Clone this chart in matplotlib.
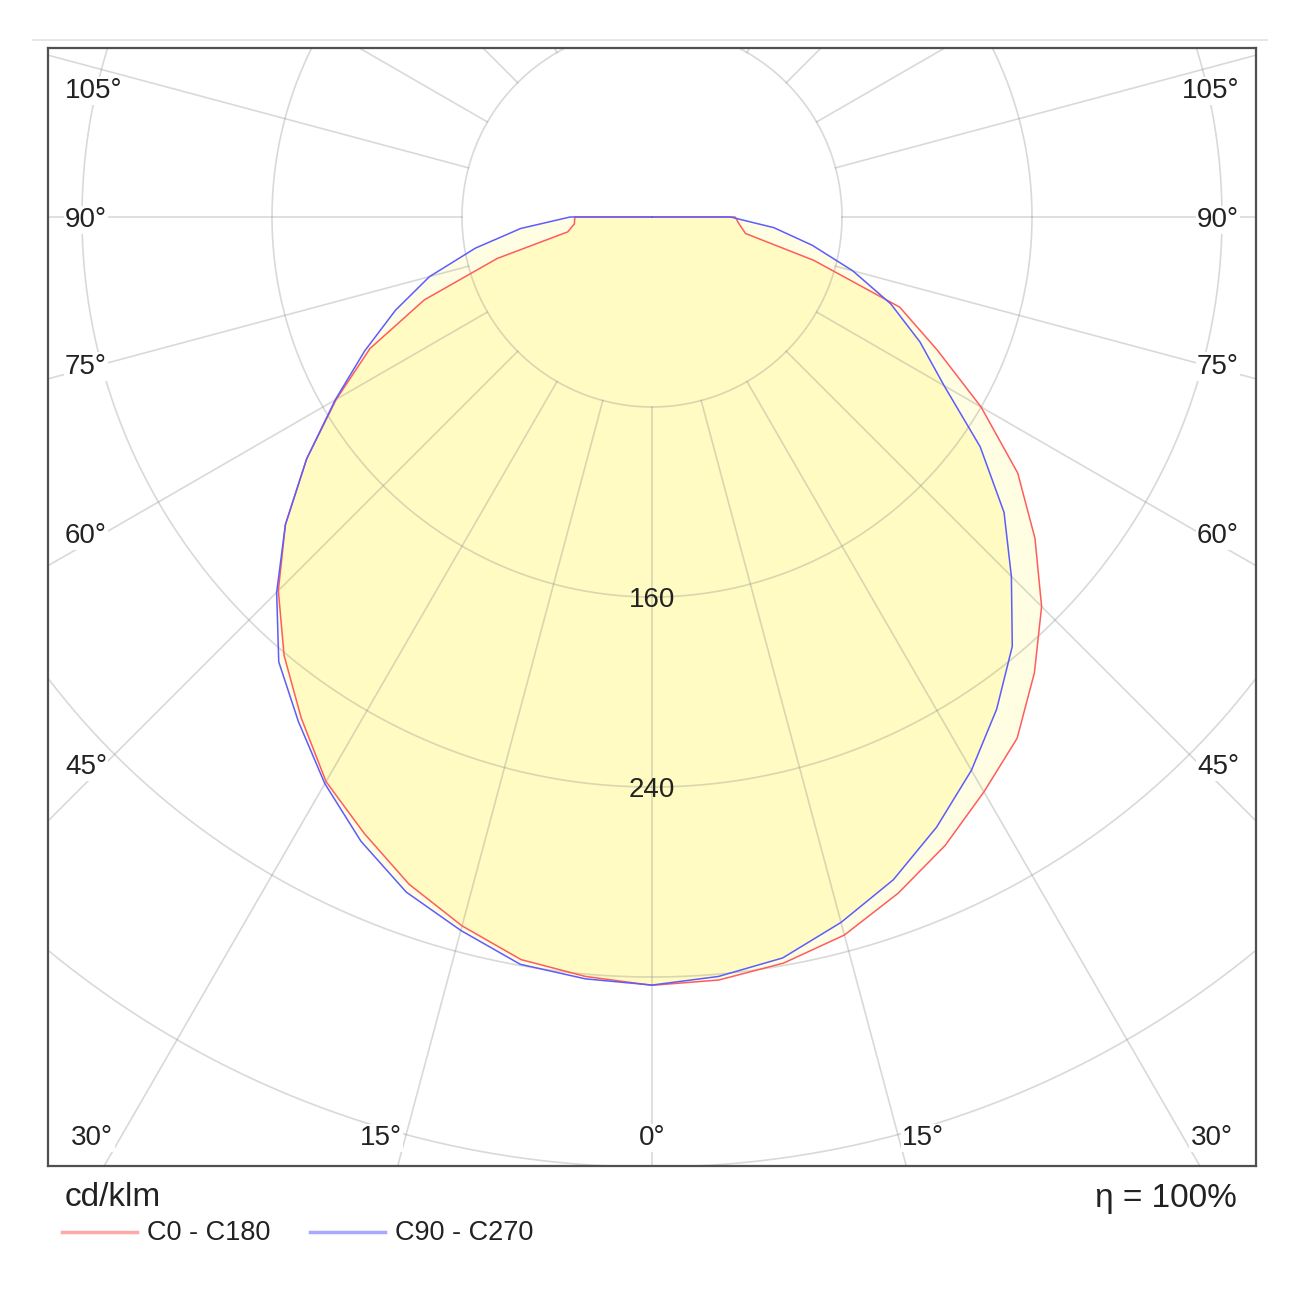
import numpy as np
import matplotlib.pyplot as plt
from matplotlib.lines import Line2D

plt.rcParams['font.family'] = ['Liberation Sans', 'DejaVu Sans']

# luminous intensity (cd/klm) every 5 deg from nadir
gamma = list(range(0, 91, 5))
c0 = [323.5, 322.5, 319, 313, 303, 292, 279.5, 268, 250.5, 232, 210.5, 188,
      160, 132.5, 111, 70.5, 40, 37, 35]
c180 = [323.5, 321, 317.5, 309, 299, 286.5, 274.5, 257.5, 241, 222.5, 201.5, 177.5,
        153.5, 131, 102, 67.5, 36, 32.8, 32.5]
c90 = [323.4, 321, 316.8, 307.5, 297, 283.5, 269, 253, 236, 214, 193.5, 168.7,
       142, 124.5, 107, 87.5, 68.5, 51.5, 33]
c270 = [323.4, 322, 319.5, 311, 302.5, 290, 275.5, 259.5, 244.5, 223.5, 201.5, 177.5,
        154, 133.5, 115, 97, 75.5, 55.5, 34.5]

ring_values = [80, 160, 240, 320, 400, 480, 560, 640]
ring_labels = [160, 240]
angle_labels = [0, 15, 30, 45, 60, 75, 90, 105]
efficiency = "η = 100%"
unit = "cd/klm"
legend_names = ["C0 - C180", "C90 - C270"]


def outline(right, left):
    g = np.radians(gamma)
    right = np.asarray(right, float)
    left = np.asarray(left, float)
    xr, yr = right * np.sin(g), -right * np.cos(g)
    xl, yl = -left * np.sin(g), -left * np.cos(g)
    x = np.concatenate([[0], xl[::-1], xr, [0]])
    y = np.concatenate([[0], yl[::-1], yr, [0]])
    return x, y


W = H = 1300
cx, cy, scale = 652, 217, 2.375   # pixel centre and px per cd/klm

fig = plt.figure(figsize=(13, 13), dpi=100)
ax = fig.add_axes([48 / W, 1 - 1166 / H, 1208 / W, 1118 / H])
ax.set_xlim((48 - cx) / scale, (1256 - cx) / scale)
ax.set_ylim(-(1166 - cy) / scale, (cy - 48) / scale)
ax.set_xticks([])
ax.set_yticks([])
for sp in ax.spines.values():
    sp.set_color('#505050')
    sp.set_linewidth(1.6)

# fills: outer rim lighter, common part stronger
xo, yo = outline(np.maximum(c0, c90), np.maximum(c180, c270))
xi, yi = outline(np.minimum(c0, c90), np.minimum(c180, c270))
ax.fill(xo, yo, color='#fffde2', lw=0, zorder=1)
ax.fill(xi, yi, color='#fffbc2', lw=0, zorder=1.1)

# polar grid
grid_kw = dict(color='#8c8c8c', alpha=0.33, lw=1.2, zorder=2)
t = np.linspace(0, 2 * np.pi, 721)
for r in ring_values:
    ax.plot(r * np.cos(t), r * np.sin(t), **grid_kw)
for a in range(0, 360, 15):
    g = np.radians(a)
    ax.plot([80 * np.sin(g), 700 * np.sin(g)], [-80 * np.cos(g), -700 * np.cos(g)], **grid_kw)

# curves
x, y = outline(c0, c180)
ax.plot(x, y, color='#ff5c5c', lw=1.1, zorder=3)
x, y = outline(c90, c270)
ax.plot(x, y, color='#5c5cff', lw=1.1, zorder=3)

# value labels
for v in ring_labels:
    ax.text(0, -v, str(v), ha='center', va='center_baseline', fontsize=20,
            color='#222222', zorder=4)

# angle labels: y from the ray, sides pinned to the frame
side_x = (cx - 105) / scale      # ray hits here for the side labels
edge_x = (cx - 65) / scale       # text edge for side labels
ray_y = (1150 - cy) / scale      # ray hits here for the bottom labels
bottom_y = -(1135 - cy) / scale
top_y = (cy - 88) / scale
for a in angle_labels:
    g = np.radians(a)
    s, c = np.sin(g), np.cos(g)
    bottom = c > 0 and (s < 1e-9 or ray_y / c < side_x / s)
    for side in (-1, 1):
        if a == 0 and side == 1:
            continue
        if bottom:
            lx, ly = side * ray_y * s / c, bottom_y
            ha = 'center' if a == 0 else ('right' if side < 0 else 'left')
        else:
            lx = side * edge_x
            ly = min(-side_x * c / s, top_y)
            ha = 'left' if side < 0 else 'right'
        ax.text(lx, ly, f"{a}°", ha=ha, va='center_baseline', fontsize=20,
                color='#222222', zorder=4,
                bbox=dict(facecolor='white', edgecolor='none', pad=1.0))

# texts under the frame
fig.text(65 / W, 1 - 1198 / H, unit, ha='left', va='center', fontsize=24, color='#222222')
fig.text(1237 / W, 1 - 1198 / H, efficiency, ha='right', va='center', fontsize=24, color='#222222')
fig.add_artist(Line2D([62 / W, 137 / W], [1 - 1232 / H] * 2, color='#ffa8a8', lw=2.5))
fig.text(147 / W, 1 - 1233 / H, legend_names[0], ha='left', va='center', fontsize=19.5, color='#222222')
fig.add_artist(Line2D([310 / W, 385 / W], [1 - 1232 / H] * 2, color='#a8a8ff', lw=2.5))
fig.text(395 / W, 1 - 1233 / H, legend_names[1], ha='left', va='center', fontsize=19.5, color='#222222')

# thin rule above the frame
fig.add_artist(Line2D([33 / W, 1267 / W], [1 - 40 / H] * 2, color='#e2e2e2', lw=1.2))

fig.savefig('out.png', dpi=100)
